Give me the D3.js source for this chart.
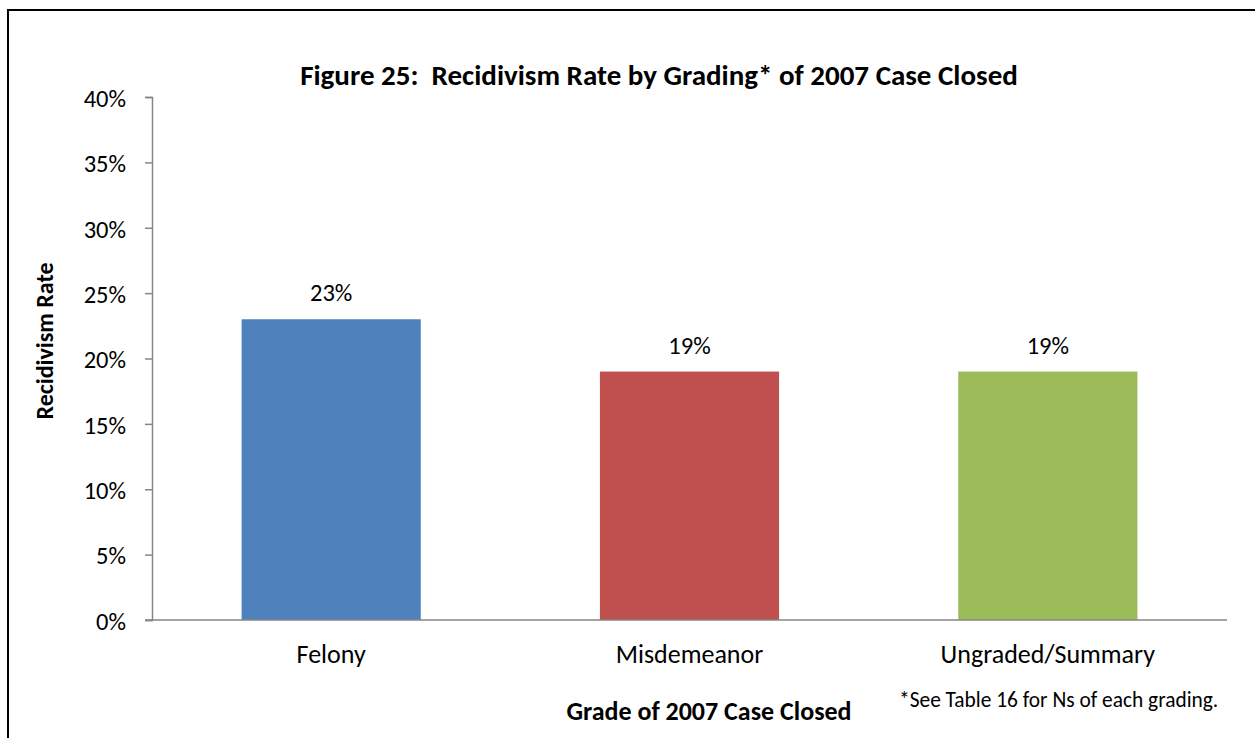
<!DOCTYPE html>
<html>
<head>
<meta charset="utf-8">
<script src="https://cdnjs.cloudflare.com/ajax/libs/d3/7.8.5/d3.min.js"></script>
<style>
  body { margin: 0; background: #fff; }
  text { font-family: Carlito, Calibri, Lato, sans-serif; fill: #000; }
</style>
</head>
<body>
<div class="draw"></div>
<script>
// chart data
var categories = ["Felony", "Misdemeanor", "Ungraded/Summary"];
var rates = [23, 19, 19];
var barColors = ["#4F81BD", "#C0504D", "#9BBB59"];
var yTicks = [0, 5, 10, 15, 20, 25, 30, 35, 40];

var width = 1255, height = 738;
var margin = { left: 152, right: 28, top: 97, bottom: 118 };

var svg = d3.select(".draw").append("svg")
    .attr("width", width)
    .attr("height", height);

// outer frame (only top and left edges show)
svg.append("line").attr("x1", 8).attr("x2", width).attr("y1", 10).attr("y2", 10)
    .attr("stroke", "#000").attr("stroke-width", 2);
svg.append("line").attr("x1", 8).attr("x2", 8).attr("y1", 9).attr("y2", height)
    .attr("stroke", "#000").attr("stroke-width", 2);

var x = d3.scaleBand()
    .domain(categories)
    .range([margin.left, width - margin.right])
    .paddingInner(0.5)
    .paddingOuter(0.25);

var y = d3.scaleLinear()
    .domain([0, 40])
    .range([height - margin.bottom, margin.top]);

// bars
svg.selectAll(".bar")
    .data(categories)
    .enter().append("rect")
    .attr("class", "bar")
    .attr("x", function (d) { return x(d); })
    .attr("width", x.bandwidth())
    .attr("y", function (d, i) { return y(rates[i]); })
    .attr("height", function (d, i) { return y(0) - y(rates[i]); })
    .attr("fill", function (d, i) { return barColors[i]; });

// value labels
svg.selectAll(".lbl")
    .data(categories)
    .enter().append("text")
    .attr("x", function (d) { return x(d) + x.bandwidth() / 2; })
    .attr("y", function (d, i) { return y(rates[i]) - 18; })
    .attr("text-anchor", "middle")
    .style("font-size", "24.5px")
    .text(function (d, i) { return rates[i] + "%"; });

// y axis
var yaxis = d3.axisLeft(y)
    .tickValues(yTicks)
    .tickSize(7)
    .tickPadding(19)
    .tickFormat(function (d) { return d + "%"; });

var gy = svg.append("g")
    .attr("transform", "translate(" + margin.left + ",0)")
    .call(yaxis);
gy.attr("font-family", null).attr("font-size", null);
gy.select(".domain").attr("stroke", "#868686").attr("stroke-width", 1.5);
gy.selectAll(".tick line").attr("stroke", "#868686").attr("stroke-width", 1.5);
gy.selectAll(".tick text").style("font-size", "24.5px").attr("dy", "0.38em");

// x axis
var xaxis = d3.axisBottom(x).tickSize(0);
var gx = svg.append("g")
    .attr("transform", "translate(0," + y(0) + ")")
    .call(xaxis);
gx.attr("font-family", null).attr("font-size", null);
gx.select(".domain").attr("stroke", "#868686").attr("stroke-width", 1.5)
    .attr("d", "M" + (margin.left - 7) + ",0H" + (width - margin.right));
gx.selectAll(".tick text").style("font-size", "26px").attr("y", 43).attr("dy", 0);

// title
svg.append("text")
    .attr("x", 659).attr("y", 85)
    .attr("text-anchor", "middle")
    .attr("xml:space", "preserve")
    .style("font-size", "29px").style("font-weight", "bold")
    .text("Figure 25:  Recidivism Rate by Grading* of 2007 Case Closed");

// axis titles
svg.append("text")
    .attr("transform", "translate(53,341) rotate(-90)")
    .attr("text-anchor", "middle")
    .style("font-size", "24px").style("font-weight", "bold")
    .text("Recidivism Rate");

svg.append("text")
    .attr("x", 709).attr("y", 720)
    .attr("text-anchor", "middle")
    .style("font-size", "26px").style("font-weight", "bold")
    .text("Grade of 2007 Case Closed");

svg.append("text")
    .attr("x", 899).attr("y", 707)
    .style("font-size", "21.4px")
    .text("*See Table 16 for Ns of each grading.");
</script>
</body>
</html>
